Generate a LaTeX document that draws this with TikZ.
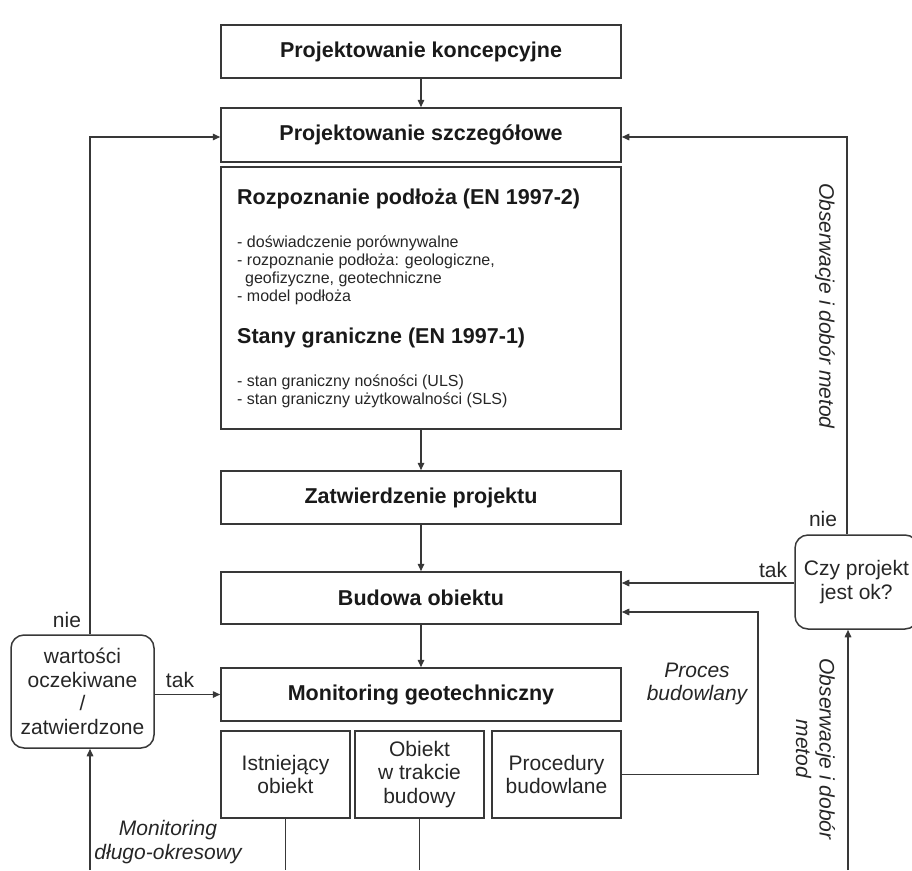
\documentclass[tikz,border=0pt]{standalone}
\usepackage{fontspec}
\setmainfont{Liberation Sans}
\usetikzlibrary{arrows.meta}
\begin{document}
\begin{tikzpicture}[x=1pt,y=-1pt]
\tikzset{
  lw/.style={line width=1.5pt, draw=black!78},
  box/.style={lw, rectangle, minimum width=400, inner sep=0pt, align=center,
    text=black!90, font=\fontsize{21.5}{24}\selectfont\bfseries},
  subbox/.style={lw, rectangle, minimum width=129, minimum height=87, inner sep=0pt,
    align=center, text=black!85, font=\fontsize{21}{23.5}\selectfont},
  decision/.style={lw, rectangle, rounded corners=13pt, inner sep=0pt, align=center,
    text=black!85, font=\fontsize{21}{23.5}\selectfont},
  arr/.style={lw, -{Triangle[length=7.5pt,width=6.5pt]}},
  conn/.style={lw},
  lab/.style={inner sep=0pt, text=black!85, font=\fontsize{21}{23.5}\selectfont},
  side/.style={inner sep=0pt, text=black!85, align=center, font=\fontsize{21}{23.5}\selectfont\itshape},
  heading/.style={inner sep=0pt, anchor=west, text=black!90, font=\fontsize{21.5}{24}\selectfont\bfseries},
  listing/.style={inner sep=0pt, anchor=west, align=left, text=black!85, font=\fontsize{16}{18}\selectfont}
}
\useasboundingbox (0,0) rectangle (912,870);
\clip (0,0) rectangle (912,870);

% main column
\node[box, minimum height=53] (conc) at (421,51.5) {Projektowanie koncepcyjne};
\node[box, minimum height=54] (det)  at (421,135) {Projektowanie szczegółowe};
\node[box, minimum height=262] (ec7) at (421,298) {};
\node[box, minimum height=53] (appr) at (421,497.5) {Zatwierdzenie projektu};
\node[box, minimum height=52] (bud)  at (421,598) {Budowa obiektu};
\node[box, minimum height=53] (mon)  at (421,694.5) {Monitoring geotechniczny};

% contents of the Eurocode box
\node[heading] (h1) at (237,199) {Rozpoznanie podłoża (EN 1997-2)};
\node[listing] (l1) at (237,270) {- doświadczenie porównywalne\\
  - rozpoznanie podłoża: geologiczne,\\
  \hspace*{8pt}geofizyczne, geotechniczne\\
  - model podłoża};
\node[heading] (h2) at (237,338) {Stany graniczne (EN 1997-1)};
\node[listing] (l2) at (237,391) {- stan graniczny nośności (ULS)\\
  - stan graniczny użytkowalności (SLS)};

% monitoring sub-boxes
\node[subbox] (sub1) at (285.5,774.5) {Istniejący\\obiekt};
\node[subbox] (sub2) at (419.5,774.5) {Obiekt\\w trakcie\\budowy};
\node[subbox] (sub3) at (556.5,774.5) {Procedury\\budowlane};

% decisions
\node[decision, minimum width=123, minimum height=94] (czy) at (856.5,582) {Czy projekt\\jest ok?};
\node[decision, minimum width=143, minimum height=113] (wart) at (82.5,691.5) {wartości\\oczekiwane\\/\\zatwierdzone};

% routing points
\coordinate (bot) at (0,870);
\coordinate (lt) at (90,137);
\coordinate (lb) at (90,870);
\coordinate (rt) at (847,137);
\coordinate (rb) at (848,870);
\coordinate (pr) at (758,612);
\coordinate (tk) at (0,583);

% main flow
\draw[arr] (conc) -- (det);
\draw[arr] (ec7) -- (appr);
\draw[arr] (appr) -- (bud);
\draw[arr] (bud) -- (mon);

% feedback loops
\draw[arr] (czy.north -| rt) -- (rt) -- (det.east |- rt);
\draw[arr] (czy.west |- tk) -- (bud.east |- tk);
\draw[arr] (sub3.east) -| (pr) -- (bud.east |- pr);
\draw[arr] (rb) -- (czy.south -| rb);
\draw[arr] (wart.north -| lt) -- (lt) -- (det.west |- lt);
\draw[arr] (wart.east |- mon.west) -- (mon.west);
\draw[arr] (lb) -- (wart.south -| lb);
\draw[conn] (sub1.south) -- (sub1.south |- bot);
\draw[conn] (sub2.south) -- (sub2.south |- bot);

% labels
\node[lab] (nieR) at (823,519) {nie};
\node[lab] (takR) at (773,570) {tak};
\node[lab] (nieL) at (67,620) {nie};
\node[lab] (takL) at (180,680) {tak};
\node[side, rotate=-90] (obs1) at (825,306) {Obserwacje i dobór metod};
\node[side, rotate=-90] (obs2) at (815.5,749) {Obserwacje i dobór\\metod};
\node[side] (proc) at (697,684) {Proces\\budowlany};
\node[side] (mlong) at (168,842) {Monitoring\\długo-okresowy};
\end{tikzpicture}
\end{document}
